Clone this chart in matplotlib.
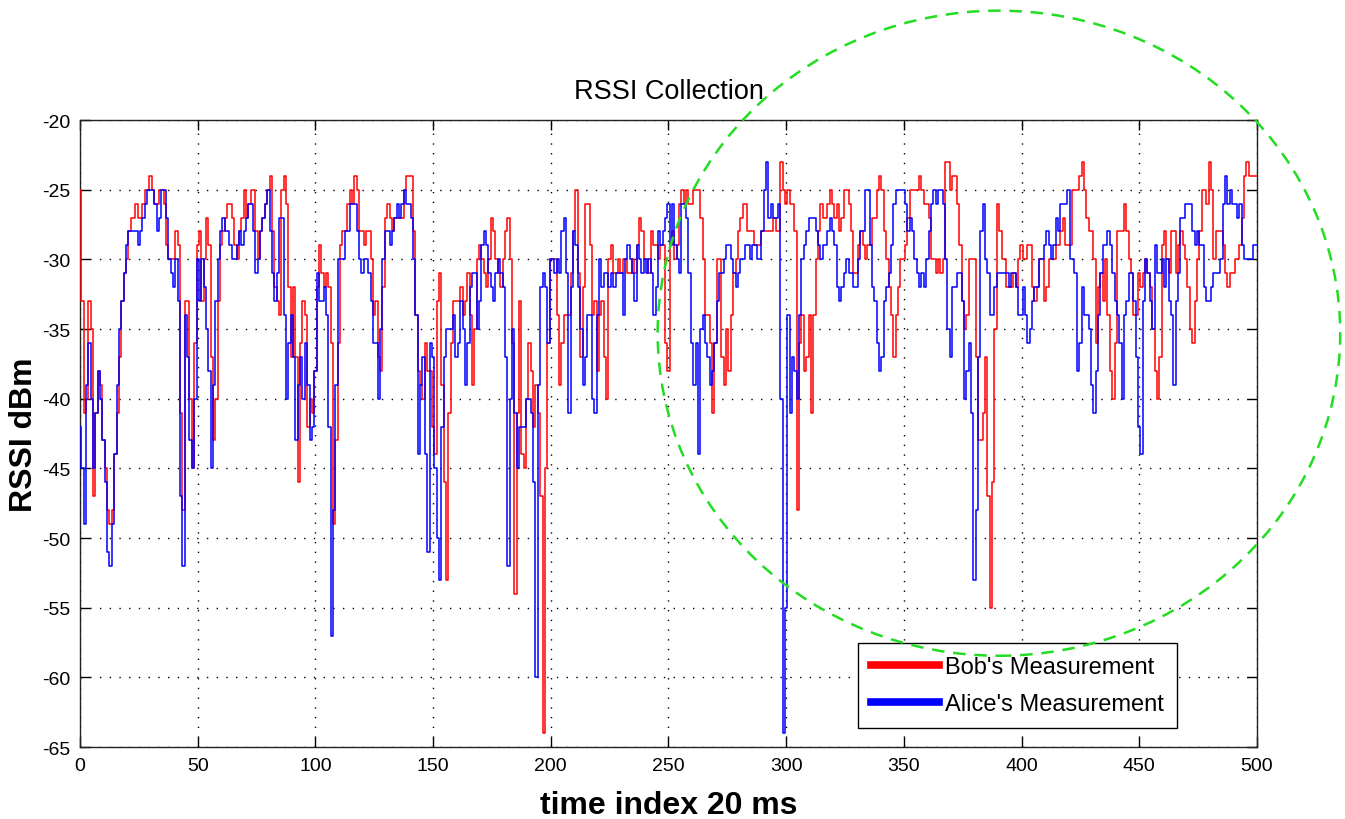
import matplotlib
matplotlib.use("Agg")
import matplotlib.pyplot as plt
import numpy as np
from matplotlib.patches import Ellipse

# RSSI samples (dBm), one per 20 ms time index, 0..500
bob_rssi = [
    -25, -33, -41, -40, -33, -35, -47, -41, -38, -39,
    -43, -45, -48, -49, -48, -44, -41, -37, -33, -31,
    -30, -28, -27, -27, -26, -27, -27, -26, -25, -25,
    -24, -25, -26, -26, -25, -25, -26, -29, -30, -30,
    -30, -28, -29, -41, -48, -33, -33, -40, -45, -36,
    -29, -28, -33, -30, -27, -29, -37, -43, -40, -33,
    -29, -28, -27, -26, -26, -27, -29, -30, -28, -27,
    -25, -27, -26, -25, -25, -28, -30, -28, -27, -26,
    -25, -24, -28, -32, -33, -34, -25, -24, -26, -32,
    -37, -32, -37, -46, -36, -33, -34, -42, -40, -41,
    -38, -32, -29, -31, -32, -31, -32, -36, -49, -43,
    -36, -29, -28, -28, -26, -25, -26, -24, -25, -28,
    -28, -29, -28, -28, -30, -34, -33, -37, -38, -32,
    -27, -26, -27, -28, -27, -27, -27, -27, -25, -24,
    -24, -24, -28, -34, -38, -39, -40, -36, -38, -38,
    -42, -44, -33, -31, -39, -46, -53, -41, -36, -33,
    -33, -33, -32, -34, -33, -31, -34, -39, -35, -30,
    -29, -30, -31, -32, -30, -27, -28, -30, -31, -32,
    -30, -28, -27, -30, -36, -54, -41, -33, -44, -45,
    -40, -36, -38, -42, -39, -41, -47, -64, -45, -36,
    -30, -30, -30, -34, -39, -36, -34, -34, -34, -31,
    -28, -25, -31, -37, -32, -26, -26, -29, -34, -33,
    -38, -34, -33, -37, -40, -30, -29, -31, -31, -30,
    -31, -30, -30, -31, -31, -30, -31, -29, -27, -28,
    -30, -30, -31, -28, -29, -29, -30, -29, -29, -36,
    -38, -29, -28, -30, -29, -26, -25, -26, -25, -26,
    -26, -25, -25, -25, -27, -30, -34, -34, -36, -41,
    -36, -30, -30, -37, -39, -35, -38, -34, -31, -30,
    -28, -27, -26, -26, -28, -28, -28, -29, -29, -29,
    -28, -28, -28, -28, -28, -27, -28, -28, -23, -25,
    -26, -25, -26, -26, -28, -48, -36, -34, -38, -37,
    -34, -41, -34, -30, -28, -26, -27, -27, -26, -25,
    -26, -27, -26, -28, -27, -25, -25, -26, -28, -31,
    -31, -29, -28, -29, -30, -29, -29, -27, -27, -25,
    -24, -25, -28, -30, -32, -34, -37, -34, -32, -30,
    -30, -29, -27, -25, -25, -25, -25, -24, -25, -26,
    -26, -27, -30, -30, -31, -30, -31, -30, -23, -23,
    -25, -24, -24, -26, -29, -33, -35, -34, -30, -30,
    -30, -37, -43, -43, -41, -37, -47, -55, -46, -35,
    -26, -28, -30, -30, -32, -32, -32, -31, -32, -30,
    -29, -30, -30, -29, -29, -32, -33, -32, -30, -30,
    -33, -32, -30, -30, -30, -29, -29, -28, -27, -29,
    -29, -29, -25, -25, -25, -24, -23, -25, -27, -28,
    -28, -30, -36, -32, -31, -33, -30, -34, -38, -40,
    -36, -28, -28, -28, -26, -28, -30, -31, -34, -34,
    -31, -32, -31, -30, -31, -32, -35, -38, -40, -37,
    -29, -28, -30, -31, -28, -28, -31, -29, -28, -29,
    -30, -32, -35, -36, -33, -30, -28, -25, -25, -26,
    -23, -25, -30, -28, -28, -28, -29, -31, -32, -31,
    -31, -30, -30, -29, -27, -24, -23, -24, -24, -24,
    -24,
]

alice_rssi = [
    -42, -45, -49, -39, -36, -40, -45, -41, -38, -40,
    -43, -46, -51, -52, -49, -44, -39, -35, -33, -31,
    -29, -28, -28, -28, -28, -29, -28, -27, -26, -25,
    -25, -25, -26, -28, -27, -25, -25, -27, -30, -31,
    -32, -30, -33, -47, -52, -34, -37, -43, -45, -40,
    -30, -33, -30, -32, -35, -38, -45, -39, -33, -30,
    -28, -27, -28, -28, -29, -30, -30, -29, -28, -29,
    -28, -27, -26, -26, -28, -31, -30, -28, -27, -26,
    -25, -28, -31, -33, -31, -27, -27, -34, -40, -36,
    -34, -37, -43, -39, -37, -40, -36, -39, -43, -42,
    -38, -31, -33, -33, -32, -34, -42, -57, -48, -39,
    -30, -30, -30, -28, -28, -26, -26, -26, -28, -30,
    -31, -30, -30, -31, -33, -36, -36, -40, -35, -30,
    -28, -28, -29, -28, -27, -26, -27, -26, -25, -26,
    -26, -27, -30, -34, -44, -39, -37, -44, -51, -36,
    -37, -45, -50, -53, -42, -37, -35, -35, -35, -34,
    -37, -36, -33, -35, -39, -36, -32, -31, -31, -35,
    -33, -29, -28, -29, -31, -32, -33, -31, -30, -31,
    -32, -37, -52, -40, -35, -41, -45, -42, -42, -42,
    -40, -40, -41, -46, -60, -39, -32, -31, -32, -36,
    -30, -30, -31, -30, -31, -28, -27, -31, -41, -32,
    -28, -29, -32, -35, -39, -37, -34, -34, -40, -41,
    -34, -30, -32, -31, -31, -32, -31, -32, -31, -31,
    -31, -34, -30, -29, -30, -31, -33, -29, -30, -31,
    -30, -31, -30, -31, -34, -32, -28, -29, -28, -27,
    -26, -29, -26, -29, -30, -31, -26, -26, -27, -31,
    -36, -39, -36, -44, -35, -34, -36, -37, -39, -38,
    -36, -33, -31, -31, -30, -29, -29, -30, -31, -32,
    -31, -30, -30, -29, -29, -30, -29, -29, -30, -30,
    -28, -25, -23, -27, -26, -27, -27, -26, -40, -64,
    -55, -34, -41, -37, -38, -40, -34, -30, -29, -28,
    -27, -27, -27, -28, -29, -30, -29, -29, -28, -27,
    -28, -29, -32, -33, -32, -31, -30, -31, -31, -32,
    -32, -30, -28, -28, -25, -25, -29, -32, -33, -36,
    -38, -37, -33, -32, -31, -29, -26, -25, -25, -25,
    -25, -26, -28, -27, -28, -30, -31, -32, -31, -32,
    -30, -28, -26, -25, -26, -25, -25, -26, -30, -35,
    -37, -32, -32, -31, -31, -33, -40, -38, -36, -41,
    -53, -48, -37, -28, -26, -30, -31, -34, -34, -32,
    -31, -31, -31, -31, -31, -32, -31, -31, -32, -34,
    -34, -32, -34, -36, -35, -33, -32, -32, -30, -30,
    -29, -28, -29, -30, -29, -27, -28, -26, -26, -26,
    -25, -30, -30, -31, -38, -36, -32, -34, -34, -35,
    -39, -41, -38, -34, -31, -29, -29, -28, -29, -31,
    -33, -34, -36, -40, -34, -33, -31, -31, -33, -37,
    -42, -44, -33, -30, -31, -33, -35, -29, -31, -31,
    -30, -32, -30, -33, -34, -39, -33, -31, -27, -27,
    -26, -26, -26, -28, -29, -28, -29, -29, -32, -33,
    -33, -32, -31, -31, -31, -30, -26, -24, -26, -25,
    -26, -26, -27, -26, -29, -30, -30, -30, -30, -29,
    -29,
]

time_index = np.arange(len(bob_rssi))

x_ticks = np.arange(0, 501, 50)
y_ticks = np.arange(-65, -19, 5)

plt.rcParams["font.family"] = ["Liberation Sans", "DejaVu Sans"]
plt.rcParams["axes.unicode_minus"] = False

fig = plt.figure(figsize=(13.45, 8.2), dpi=100, facecolor="white")
ax = fig.add_axes([0.0595, 0.0878, 0.875, 0.7646])

ax.plot(time_index, bob_rssi, color="#ff0000", linewidth=1.1,
        drawstyle="steps-mid", label="Bob's Measurement", zorder=3)
ax.plot(time_index, alice_rssi, color="#0000ff", linewidth=1.1,
        drawstyle="steps-mid", label="Alice's Measurement", zorder=4)

ax.set_xlim(0, 500)
ax.set_ylim(-65, -20)
ax.set_xticks(x_ticks)
ax.set_yticks(y_ticks)
ax.tick_params(direction="in", length=7, width=1.0, top=True, right=True,
               labelsize=14, pad=7)
ax.grid(True, color="black", linestyle=(0, (1, 6)), linewidth=1.0)
for sp in ax.spines.values():
    sp.set_linewidth(1.0)
    sp.set_color("#222222")

ax.set_title("RSSI Collection", fontsize=19.5, pad=16)
ax.set_xlabel("time index 20 ms", fontsize=23, fontweight="bold", labelpad=12)
ax.set_ylabel("RSSI dBm", fontsize=23, fontweight="bold")
ax.yaxis.set_label_coords(-0.035, 0.5)

leg = ax.legend(loc="lower right", bbox_to_anchor=(0.932, 0.03),
                borderaxespad=0, fontsize=17, handlelength=2.9,
                handletextpad=0.25, borderpad=0.55, labelspacing=0.65,
                fancybox=False, framealpha=1, edgecolor="black")
leg.get_frame().set_linewidth(1.0)
for line in leg.get_lines():
    line.set_linewidth(5.5)
leg.set_zorder(5)

# highlighted region, drawn over the legend and past the axes edge
ring = Ellipse((390.4, -35.3), width=290, height=46.3, fill=False,
               edgecolor="#22dd22", linewidth=1.8, linestyle=(0, (5, 3.5)),
               clip_on=False, zorder=6)
ax.add_patch(ring)

fig.savefig("out.png", dpi=100)
